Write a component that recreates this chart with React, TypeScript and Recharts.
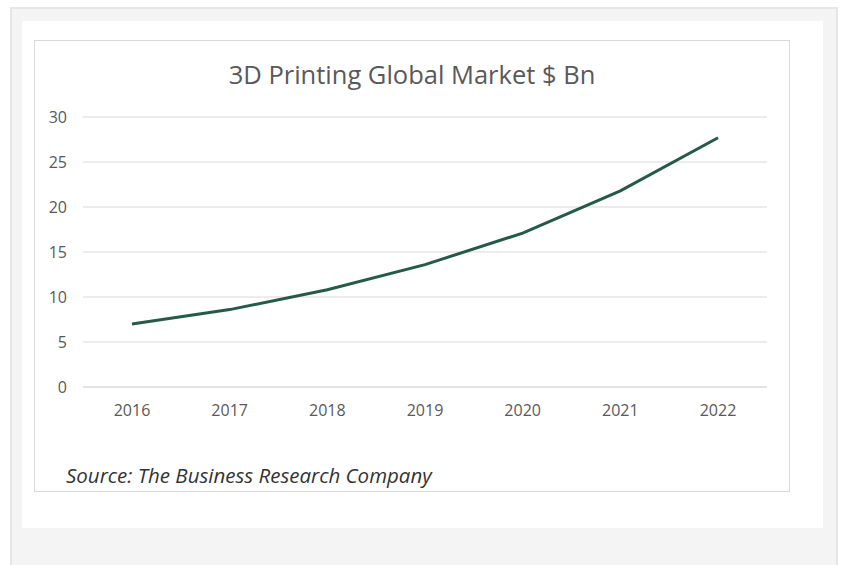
import React from "react";
import { LineChart, Line, XAxis, YAxis, CartesianGrid } from "recharts";

const years = ["2016", "2017", "2018", "2019", "2020", "2021", "2022"];
const marketBn = [7.0, 8.6, 10.8, 13.6, 17.1, 21.8, 27.7];
const yTicks = [0, 5, 10, 15, 20, 25, 30];
const titleText = "3D Printing Global Market $ Bn";
const sourceText = "Source: The Business Research Company";

const data = years.map((y, i) => ({ year: y, value: marketBn[i] }));

const font = "'Open Sans', sans-serif";

export default function App() {
  return (
    <div style={{ position: "absolute", left: 0, top: 0, width: 842, height: 565, background: "#ffffff", overflow: "hidden" }}>
      <div style={{ position: "absolute", left: 10, top: 7, width: 828, height: 570, boxSizing: "border-box", background: "#f4f4f4", border: "2px solid #e6e6e6" }} />
      <div style={{ position: "absolute", left: 22, top: 21, width: 801, height: 507, background: "#ffffff" }} />
      <div style={{ position: "absolute", left: 34, top: 40, width: 756, height: 452, boxSizing: "border-box", border: "1.5px solid #d9d9d9", background: "#ffffff" }} />
      <div style={{ position: "absolute", left: 34, top: 40, width: 756 }}>
        <LineChart width={756} height={451} data={data} margin={{ top: 77, right: 23, bottom: 74, left: 0 }}>
          <CartesianGrid vertical={false} stroke="#d9d9d9" strokeWidth={1} />
          <XAxis
            dataKey="year"
            axisLine={{ stroke: "#d9d9d9" }}
            tickLine={false}
            tickSize={0}
            tickMargin={18}
            height={30}
            padding={{ left: 49, right: 49 }}
            tick={{ fill: "#595959", fontSize: 16, fontFamily: font }}
          />
          <YAxis
            width={49}
            domain={[0, 30]}
            ticks={yTicks}
            axisLine={false}
            tickLine={false}
            tickSize={0}
            tickMargin={16}
            tick={{ fill: "#595959", fontSize: 16, fontFamily: font }}
          />
          <Line type="linear" dataKey="value" stroke="#255a4a" strokeWidth={3} dot={false} isAnimationActive={false} />
        </LineChart>
      </div>
      <div style={{ position: "absolute", left: 34, top: 57, width: 756, textAlign: "center", fontFamily: font, fontSize: 25.5, color: "#595959", lineHeight: "34px" }}>
        {titleText}
      </div>
      <div style={{ position: "absolute", left: 66, top: 461, fontFamily: font, fontStyle: "italic", fontSize: 20.5, color: "#333333", lineHeight: "28px", whiteSpace: "nowrap" }}>
        {sourceText}
      </div>
    </div>
  );
}
